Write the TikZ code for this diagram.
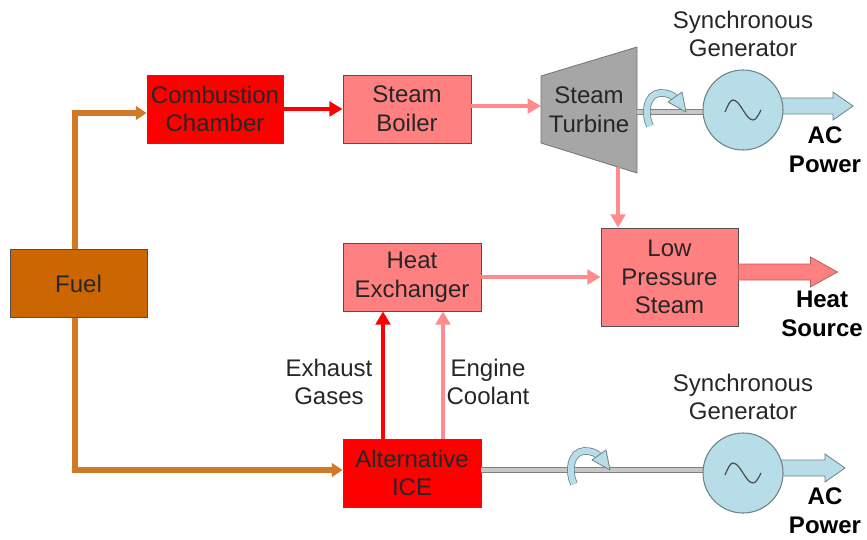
\documentclass[tikz,border=0pt]{standalone}
\usepackage{fontspec}
\setmainfont{Liberation Sans}
\usetikzlibrary{arrows.meta,calc}
\definecolor{fuelfill}{RGB}{204,102,0}
\definecolor{fuelline}{RGB}{208,122,40}
\definecolor{hotred}{RGB}{255,0,0}
\definecolor{steampink}{RGB}{255,128,128}
\definecolor{pinkline}{RGB}{255,140,140}
\definecolor{pinkedge}{RGB}{190,90,90}
\definecolor{turbgray}{RGB}{166,166,166}
\definecolor{genfill}{RGB}{183,222,232}
\definecolor{gendraw}{RGB}{110,130,135}
\definecolor{boxedge}{RGB}{80,80,80}

% rotation mark round a shaft
\newcommand{\spinicon}[1]{%
  \begin{scope}[shift={#1}]
    \draw[spinband] (6,14) .. controls (0,2) and (2,-18) .. (16,-19) .. controls (24,-19) and (28,-17) .. (31,-14);
    \filldraw[spinhead] (24,-10) -- (38,-20) -- (42,0) -- cycle;
  \end{scope}}

\begin{document}
\begin{tikzpicture}[x=0.75pt,y=-0.75pt,>={Triangle[length=10pt,width=11pt]},
  txt/.style={font=\fontsize{18pt}{21.5pt}\selectfont,align=center,text=black!85},
  bold/.style={txt,font=\fontsize{18pt}{21.5pt}\selectfont\bfseries,text=black},
  box/.style={txt,draw=boxedge,line width=0.6pt,minimum height=51pt,inner sep=0pt},
  flow/.style={->,line width=3pt},
  fuelflow/.style={->,line width=3.8pt,fuelline,>={Triangle[length=8pt,width=10pt]}},
  shaft/.style={draw=black!50,double=black!22,double distance=2.5pt,line width=1.2pt},
  gen/.style={circle,draw=gendraw,line width=0.8pt,fill=genfill,minimum size=60pt,inner sep=0pt},
  wave/.style={draw=black!70,line width=0.9pt},
  power/.style={draw=gendraw,line width=0.6pt,fill=genfill,line join=miter},
  heat/.style={draw=pinkedge,line width=0.6pt,fill=steampink,line join=miter},
  spinband/.style={draw=gendraw,double=genfill,double distance=4.5pt,line width=0.6pt},
  spinhead/.style={draw=gendraw,fill=genfill,line width=0.6pt,line join=round}]
\useasboundingbox (0,0) rectangle (867,539);

% boxes
\node[box,fill=fuelfill,minimum width=102.75pt] (fuel) at (78.5,283.5) {Fuel};
\node[box,fill=hotred,minimum width=102pt] (cc) at (215,109) {Combustion\\Chamber};
\node[box,fill=steampink,minimum width=96pt] (boil) at (407,109) {Steam\\Boiler};
\node[box,fill=steampink,minimum width=103.5pt] (he) at (412,277) {Heat\\Exchanger};
\node[box,fill=hotred,minimum width=103.5pt] (ice) at (412,473) {Alternative\\ICE};
\node[box,fill=steampink,minimum width=102.75pt,minimum height=73.5pt] (lps) at (669.5,277) {Low\\Pressure\\Steam};

% turbine
\draw[fill=turbgray,draw=black!55,line width=0.6pt] (541,76) -- (637,47) -- (637,173) -- (541,143) -- cycle;
\node[txt] (turb) at (589,110) {Steam\\Turbine};

% fuel lines
\coordinate (fup) at (75,113);
\coordinate (fdn) at (75,470);
\draw[fuelflow] (fup |- fuel.north) |- (cc.west |- fup);
\draw[fuelflow] (fdn |- fuel.south) |- (ice.west |- fdn);

% steam and heat
\coordinate (tin) at (541,106);
\coordinate (tb) at (618,167);
\coordinate (exx) at (383,0);
\coordinate (clx) at (443,0);
\draw[flow,hotred] (cc.east) -- (boil.west);
\draw[flow,pinkline] (boil.east |- tin) -- (tin);
\draw[flow,pinkline] (tb) -- (tb |- lps.north);
\draw[flow,pinkline] (he.east) -- (lps.west);
\draw[flow,hotred] (exx |- ice.north) -- (exx |- he.south);
\draw[flow,pinkline] (clx |- ice.north) -- (clx |- he.south);
\node[txt] (exh) at (329,382) {Exhaust\\Gases};
\node[txt] (cool) at (488,382) {Engine\\Coolant};

\draw[heat] ([shift={(0,-13)}]lps.east) -- ++(72,0) -- ++(0,-7) -- ++(27,15) -- ++(-27,15) -- ++(0,-7) -- ++(-72,0) -- cycle;
\node[bold] (hs) at (822,314) {Heat\\Source};

% shafts
\coordinate (gc1) at (743,110);
\coordinate (gc2) at (743,473);
\coordinate (tout) at (637,112);
\coordinate (iout) at (481,470);
\draw[shaft] (tout) -- (tout -| 703,0);
\draw[shaft] (iout) -- (iout -| 703,0);
\spinicon{(644,112)}
\spinicon{(568,470)}

% generators
\draw[power] ([shift={(30,-12)}]gc1) -- ++(60,0) -- ++(0,-6) -- ++(20,14) -- ++(-20,14) -- ++(0,-6) -- ++(-60,0) -- cycle;
\draw[power] ([shift={(30,-13)}]gc2) -- ++(52,0) -- ++(0,-6) -- ++(20,14) -- ++(-20,14) -- ++(0,-6) -- ++(-52,0) -- cycle;
\node[gen] (g1) at (gc1) {};
\node[gen] (g2) at (gc2) {};
\draw[wave] ([shift={(-18,2)}]g1.center) sin ++(8,-12) cos ++(10,10) sin ++(10,10) cos ++(8,-10);
\draw[wave] ([shift={(-18,2)}]g2.center) sin ++(8,-12) cos ++(10,10) sin ++(10,10) cos ++(8,-10);
\node[txt] (sg1) at (743,34) {Synchronous\\Generator};
\node[txt] (sg2) at (743,397) {Synchronous\\Generator};
\node[bold] (ac1) at (825,150) {AC\\Power};
\node[bold] (ac2) at (825,511) {AC\\Power};
\end{tikzpicture}
\end{document}
